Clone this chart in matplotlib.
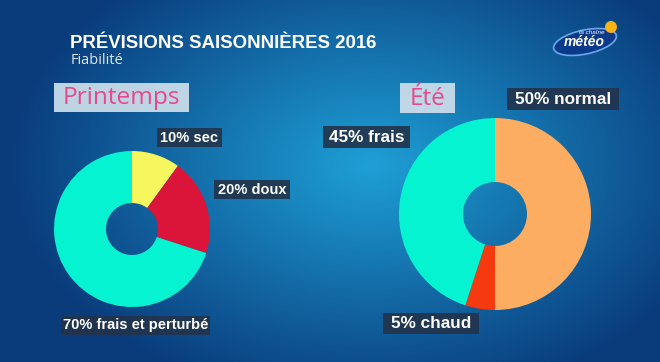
import numpy as np
import matplotlib
matplotlib.use("Agg")
import matplotlib.pyplot as plt
from matplotlib.patches import Rectangle, Ellipse, Circle

# --- data ---
printemps_labels = ["sec", "doux", "frais et perturbé"]
printemps_values = [10, 20, 70]
printemps_colors = ["#f6f65e", "#da1539", "#06f3d2"]

ete_labels = ["normal", "chaud", "frais"]
ete_values = [50, 5, 45]
ete_colors = ["#fdad62", "#f43a0e", "#06f3d2"]

title = "PRÉVISIONS SAISONNIÈRES 2016"
subtitle = "Fiabilité"
season_names = ["Printemps", "Été"]

W, H = 660, 362


def Y(y):
    # image pixel row -> data y
    return H - y


fig = plt.figure(figsize=(W / 100, H / 100), dpi=100)
ax = fig.add_axes([0, 0, 1, 1])

# --- background gradient ---
xx, yy = np.meshgrid(np.arange(W), np.arange(H))
t = np.sqrt(((xx - 370) / 360.0) ** 2 + ((yy - 165) / 240.0) ** 2)
w = np.clip(1 - t, 0, 1) ** 1.0
dark = np.array([10, 60, 124]) / 255.0
light = np.array([30, 160, 214]) / 255.0
bg = dark[None, None, :] + (light - dark)[None, None, :] * w[..., None]
ax.imshow(bg, extent=(0, W, 0, H), origin="upper", zorder=0, interpolation="bilinear")

# --- donuts ---
ax.pie(printemps_values, colors=printemps_colors, startangle=90, counterclock=False,
       radius=78, center=(132, Y(229)), wedgeprops=dict(width=52, linewidth=0))
ax.pie(ete_values, colors=ete_colors, startangle=90, counterclock=False,
       radius=96, center=(495, Y(214)), wedgeprops=dict(width=64, linewidth=0))

# --- titles ---
ax.text(70, Y(44), title, color="white", fontsize=13.4, fontweight="bold",
        family="Liberation Sans", va="center", ha="left")
ax.text(71, Y(60), subtitle, color="#dbe6f0", fontsize=10.5,
        family="Open Sans", va="center", ha="left")

# season boxes (x0, y0, x1, y1 in image px)
season_boxes = [(54, 83, 189, 112), (400, 83, 455, 113)]
for name, (x0, y0, x1, y1) in zip(season_names, season_boxes):
    ax.add_patch(Rectangle((x0, Y(y1)), x1 - x0, y1 - y0, fc="#c9dcea", ec="none",
                           alpha=0.95, zorder=3))
    ax.text((x0 + x1) / 2, Y((y0 + y1) / 2 + 1), name, color="#e8488c", fontsize=17.6,
            family="Open Sans", ha="center", va="center", zorder=4)

# value labels
label_boxes = {
    "sec": (157, 128, 222, 147),
    "doux": (214, 180, 290, 199),
    "frais et perturbé": (61, 316, 210, 335),
    "normal": (507, 88, 619, 110),
    "chaud": (383, 313, 479, 334),
    "frais": (323, 126, 410, 148),
}
for labels, values, fs in [(printemps_labels, printemps_values, 10.5),
                           (ete_labels, ete_values, 12.3)]:
    for lab, v in zip(labels, values):
        x0, y0, x1, y1 = label_boxes[lab]
        ax.add_patch(Rectangle((x0, Y(y1)), x1 - x0, y1 - y0, fc="#22334b", ec="none",
                               alpha=0.9, zorder=3))
        ax.text((x0 + x1) / 2, Y((y0 + y1) / 2), f"{v}% {lab}", color="white",
                fontsize=fs, fontweight="bold", family="Liberation Sans",
                ha="center", va="center", zorder=4)

# --- logo ---
ax.add_patch(Ellipse((585, Y(42)), 64, 24, angle=12, fc="#0b3a8a", ec="#6aa8e8",
                     lw=1.2, zorder=3))
ax.add_patch(Circle((611, Y(27)), 6, fc="#f6b418", ec="none", zorder=4))
ax.text(584, Y(42), "météo", color="white", fontsize=10, fontweight="bold",
        style="italic", family="Liberation Sans", ha="center", va="center", zorder=5)
ax.text(592, Y(32), "la chaîne", color="white", fontsize=4.5, style="italic",
        family="Liberation Sans", ha="center", va="center", zorder=5)

ax.set_xlim(0, W)
ax.set_ylim(0, H)
ax.set_aspect("auto")
ax.axis("off")

fig.savefig("out.png", dpi=100)
